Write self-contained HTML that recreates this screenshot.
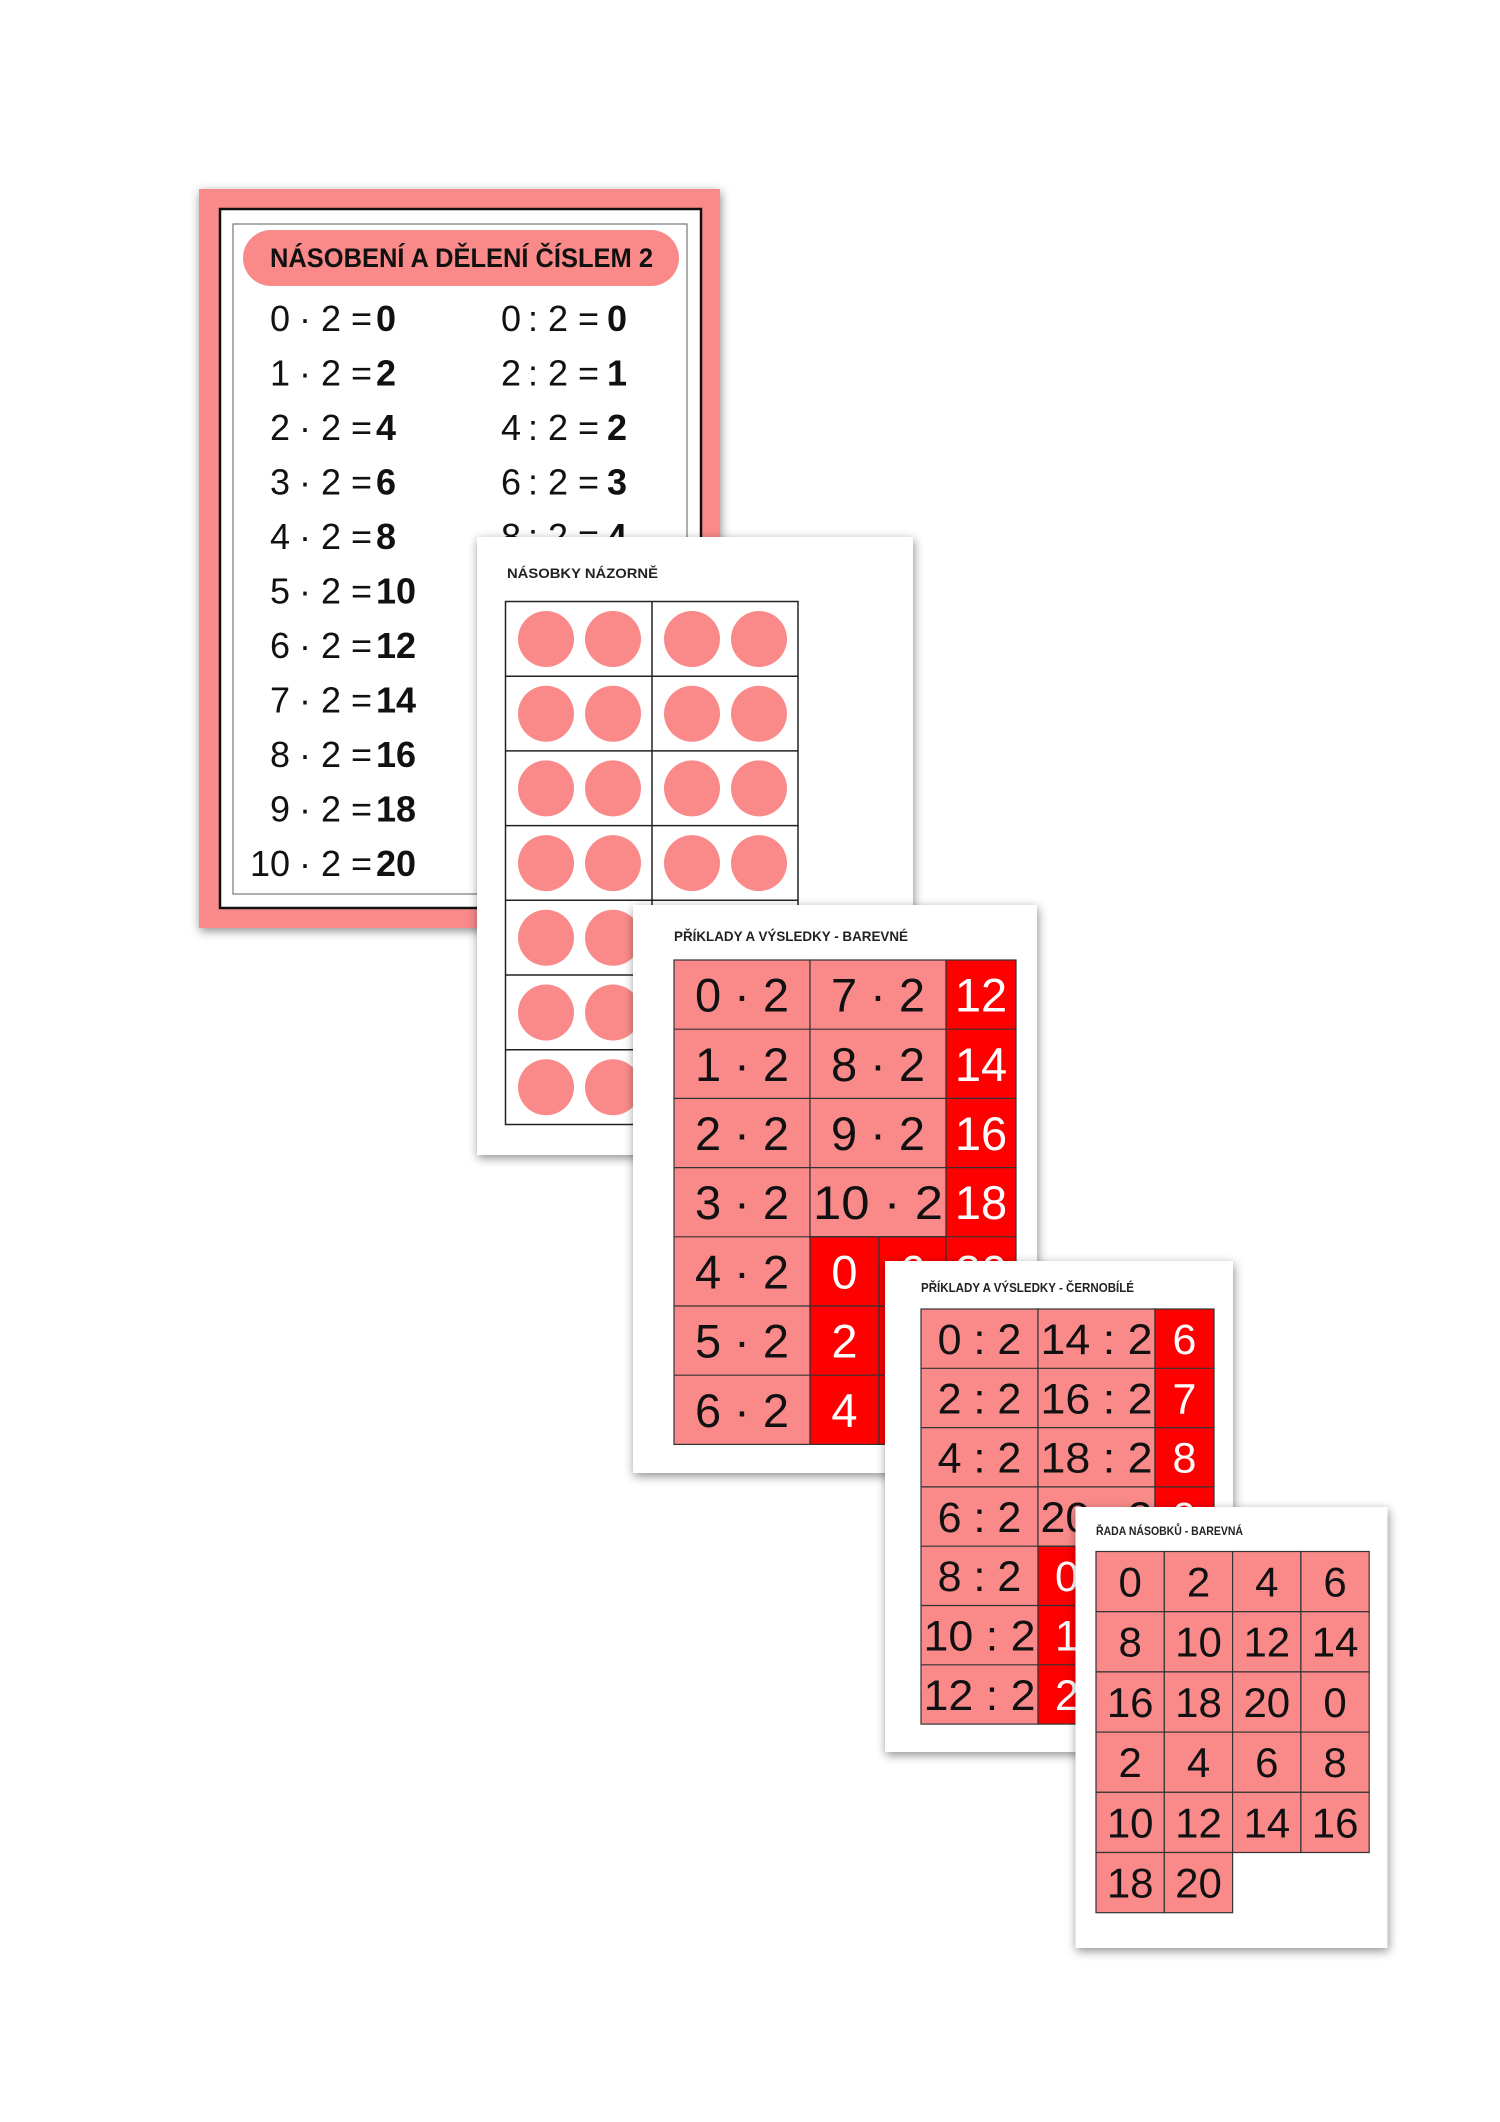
<!DOCTYPE html>
<html><head><meta charset="utf-8"><style>
html,body{margin:0;padding:0;background:#fff;}
svg{display:block;}
text{font-family:"Liberation Sans",sans-serif;}
</style></head><body>
<svg width="1500" height="2122" viewBox="0 0 1500 2122" xmlns="http://www.w3.org/2000/svg">
<defs>
<filter id="sh" x="-10%" y="-10%" width="120%" height="120%">
<feDropShadow dx="1" dy="3" stdDeviation="5" flood-color="#000" flood-opacity="0.45"/>
</filter>
</defs>
<rect width="1500" height="2122" fill="#fff"/>

<!-- CARD 1 -->
<rect x="199" y="189" width="521" height="739" fill="#fa8a8a" filter="url(#sh)"/>
<rect x="220" y="209" width="481" height="699" fill="#fff" stroke="#111" stroke-width="2.5"/>
<rect x="233" y="224" width="454" height="670" fill="none" stroke="#777" stroke-width="1.2"/>
<rect x="243" y="230" width="436" height="56" rx="28" fill="#fa8a8a"/>
<text x="270" y="267" font-size="27" font-weight="bold" fill="#111" textLength="383" lengthAdjust="spacingAndGlyphs">NÁSOBENÍ A DĚLENÍ ČÍSLEM 2</text>
<g font-size="36" fill="#111" xml:space="preserve">
<text x="290" y="331" text-anchor="end">0</text><text x="299" y="331">· 2 =</text><text x="376" y="331" font-weight="bold">0</text>
<text x="290" y="385.5" text-anchor="end">1</text><text x="299" y="385.5">· 2 =</text><text x="376" y="385.5" font-weight="bold">2</text>
<text x="290" y="440" text-anchor="end">2</text><text x="299" y="440">· 2 =</text><text x="376" y="440" font-weight="bold">4</text>
<text x="290" y="494.5" text-anchor="end">3</text><text x="299" y="494.5">· 2 =</text><text x="376" y="494.5" font-weight="bold">6</text>
<text x="290" y="549" text-anchor="end">4</text><text x="299" y="549">· 2 =</text><text x="376" y="549" font-weight="bold">8</text>
<text x="290" y="603.5" text-anchor="end">5</text><text x="299" y="603.5">· 2 =</text><text x="376" y="603.5" font-weight="bold">10</text>
<text x="290" y="658" text-anchor="end">6</text><text x="299" y="658">· 2 =</text><text x="376" y="658" font-weight="bold">12</text>
<text x="290" y="712.5" text-anchor="end">7</text><text x="299" y="712.5">· 2 =</text><text x="376" y="712.5" font-weight="bold">14</text>
<text x="290" y="767" text-anchor="end">8</text><text x="299" y="767">· 2 =</text><text x="376" y="767" font-weight="bold">16</text>
<text x="290" y="821.5" text-anchor="end">9</text><text x="299" y="821.5">· 2 =</text><text x="376" y="821.5" font-weight="bold">18</text>
<text x="290" y="876" text-anchor="end">10</text><text x="299" y="876">· 2 =</text><text x="376" y="876" font-weight="bold">20</text>

<text x="521" y="331" text-anchor="end">0</text><text x="528" y="331">: 2 =</text><text x="607" y="331" font-weight="bold">0</text>
<text x="521" y="385.5" text-anchor="end">2</text><text x="528" y="385.5">: 2 =</text><text x="607" y="385.5" font-weight="bold">1</text>
<text x="521" y="440" text-anchor="end">4</text><text x="528" y="440">: 2 =</text><text x="607" y="440" font-weight="bold">2</text>
<text x="521" y="494.5" text-anchor="end">6</text><text x="528" y="494.5">: 2 =</text><text x="607" y="494.5" font-weight="bold">3</text>
<text x="521" y="549" text-anchor="end">8</text><text x="528" y="549">: 2 =</text><text x="607" y="549" font-weight="bold">4</text>
</g>

<!-- CARD 2 -->
<rect x="477" y="537" width="436" height="618" fill="#fff" filter="url(#sh)"/>
<text x="507" y="578" font-size="14" font-weight="bold" fill="#222" textLength="151" lengthAdjust="spacingAndGlyphs">NÁSOBKY NÁZORNĚ</text>
<g fill="#fa8a8a">
<circle cx="546" cy="639" r="28"/><circle cx="613" cy="639" r="28"/><circle cx="692" cy="639" r="28"/><circle cx="759" cy="639" r="28"/>
<circle cx="546" cy="713.7" r="28"/><circle cx="613" cy="713.7" r="28"/><circle cx="692" cy="713.7" r="28"/><circle cx="759" cy="713.7" r="28"/>
<circle cx="546" cy="788.4" r="28"/><circle cx="613" cy="788.4" r="28"/><circle cx="692" cy="788.4" r="28"/><circle cx="759" cy="788.4" r="28"/>
<circle cx="546" cy="863.1" r="28"/><circle cx="613" cy="863.1" r="28"/><circle cx="692" cy="863.1" r="28"/><circle cx="759" cy="863.1" r="28"/>
<circle cx="546" cy="937.8" r="28"/><circle cx="613" cy="937.8" r="28"/><circle cx="692" cy="937.8" r="28"/><circle cx="759" cy="937.8" r="28"/>
<circle cx="546" cy="1012.5" r="28"/><circle cx="613" cy="1012.5" r="28"/><circle cx="692" cy="1012.5" r="28"/><circle cx="759" cy="1012.5" r="28"/>
<circle cx="546" cy="1087.2" r="28"/><circle cx="613" cy="1087.2" r="28"/><circle cx="692" cy="1087.2" r="28"/><circle cx="759" cy="1087.2" r="28"/>
</g>
<g stroke="#222" stroke-width="1.5" fill="none">
<rect x="505.5" y="601.5" width="292.5" height="523"/>
<line x1="652" y1="601.5" x2="652" y2="1124.5"/>
<line x1="505.5" y1="676.2" x2="798" y2="676.2"/>
<line x1="505.5" y1="750.9" x2="798" y2="750.9"/>
<line x1="505.5" y1="825.6" x2="798" y2="825.6"/>
<line x1="505.5" y1="900.3" x2="798" y2="900.3"/>
<line x1="505.5" y1="975" x2="798" y2="975"/>
<line x1="505.5" y1="1049.7" x2="798" y2="1049.7"/>
</g>

<!-- CARD 3 -->
<rect x="633" y="905" width="404" height="568" fill="#fff" filter="url(#sh)"/>
<text x="674" y="941" font-size="14" font-weight="bold" fill="#222" textLength="234" lengthAdjust="spacingAndGlyphs">PŘÍKLADY A VÝSLEDKY - BAREVNÉ</text>
<g stroke="#333" stroke-width="1.2">
<rect x="674" y="960" width="136" height="484.4" fill="#fa8a8a"/>
<rect x="810" y="960" width="136" height="276.8" fill="#fa8a8a"/>
<rect x="810" y="1236.8" width="69" height="207.6" fill="#fe0000"/>
<rect x="879" y="1236.8" width="67" height="207.6" fill="#fe0000"/>
<rect x="946" y="960" width="70" height="484.4" fill="#fe0000"/>
<line x1="674" y1="1029.2" x2="1016" y2="1029.2"/>
<line x1="674" y1="1098.4" x2="1016" y2="1098.4"/>
<line x1="674" y1="1167.6" x2="1016" y2="1167.6"/>
<line x1="674" y1="1236.8" x2="1016" y2="1236.8"/>
<line x1="674" y1="1306" x2="1016" y2="1306"/>
<line x1="674" y1="1375.2" x2="1016" y2="1375.2"/>
</g>
<g font-size="47" text-anchor="middle" fill="#111">
<text x="742" y="1011.6">0 · 2</text><text x="742" y="1080.8">1 · 2</text><text x="742" y="1150">2 · 2</text><text x="742" y="1219.2">3 · 2</text><text x="742" y="1288.4">4 · 2</text><text x="742" y="1357.6">5 · 2</text><text x="742" y="1426.8">6 · 2</text>
<text x="878" y="1011.6">7 · 2</text><text x="878" y="1080.8">8 · 2</text><text x="878" y="1150">9 · 2</text><text x="878" y="1219.2" textLength="130" lengthAdjust="spacingAndGlyphs">10 · 2</text>
</g>
<g font-size="47" text-anchor="middle" fill="#fff">
<text x="981" y="1011.6">12</text><text x="981" y="1080.8">14</text><text x="981" y="1150">16</text><text x="981" y="1219.2">18</text><text x="981" y="1288.4">20</text>
<text x="844.5" y="1288.4">0</text><text x="844.5" y="1357.6">2</text><text x="844.5" y="1426.8">4</text>
<text x="912.5" y="1288.4">6</text><text x="912.5" y="1357.6">8</text><text x="912.5" y="1426.8">10</text>
</g>

<!-- CARD 4 -->
<rect x="885" y="1261" width="348" height="491" fill="#fff" filter="url(#sh)"/>
<text x="921" y="1292" font-size="13" font-weight="bold" fill="#222" textLength="213" lengthAdjust="spacingAndGlyphs">PŘÍKLADY A VÝSLEDKY - ČERNOBÍLÉ</text>
<g stroke="#333" stroke-width="1.2">
<rect x="921" y="1309" width="117" height="415.1" fill="#fa8a8a"/>
<rect x="1038" y="1309" width="117" height="237.2" fill="#fa8a8a"/>
<rect x="1038" y="1546.2" width="58.5" height="177.9" fill="#fe0000"/>
<rect x="1096.5" y="1546.2" width="58.5" height="177.9" fill="#fe0000"/>
<rect x="1155" y="1309" width="59" height="415.1" fill="#fe0000"/>
<line x1="921" y1="1368.3" x2="1214" y2="1368.3"/>
<line x1="921" y1="1427.6" x2="1214" y2="1427.6"/>
<line x1="921" y1="1486.9" x2="1214" y2="1486.9"/>
<line x1="921" y1="1546.2" x2="1214" y2="1546.2"/>
<line x1="921" y1="1605.5" x2="1214" y2="1605.5"/>
<line x1="921" y1="1664.8" x2="1214" y2="1664.8"/>
</g>
<g font-size="43" text-anchor="middle" fill="#111">
<text x="979.5" y="1354">0 : 2</text><text x="979.5" y="1413.3">2 : 2</text><text x="979.5" y="1472.6">4 : 2</text><text x="979.5" y="1531.9">6 : 2</text><text x="979.5" y="1591.2">8 : 2</text>
<text x="979.5" y="1650.5" textLength="112" lengthAdjust="spacingAndGlyphs">10 : 2</text><text x="979.5" y="1709.8" textLength="112" lengthAdjust="spacingAndGlyphs">12 : 2</text>
<text x="1096.5" y="1354" textLength="112" lengthAdjust="spacingAndGlyphs">14 : 2</text><text x="1096.5" y="1413.3" textLength="112" lengthAdjust="spacingAndGlyphs">16 : 2</text><text x="1096.5" y="1472.6" textLength="112" lengthAdjust="spacingAndGlyphs">18 : 2</text><text x="1096.5" y="1531.9" textLength="112" lengthAdjust="spacingAndGlyphs">20 : 2</text>
</g>
<g font-size="43" text-anchor="middle" fill="#fff">
<text x="1184.5" y="1354">6</text><text x="1184.5" y="1413.3">7</text><text x="1184.5" y="1472.6">8</text><text x="1184.5" y="1531.9">9</text><text x="1184.5" y="1591.2">10</text>
<text x="1067" y="1591.2">0</text><text x="1067" y="1650.5">1</text><text x="1067" y="1709.8">2</text>
<text x="1125.5" y="1591.2">3</text><text x="1125.5" y="1650.5">4</text><text x="1125.5" y="1709.8">5</text>
</g>

<!-- CARD 5 -->
<rect x="1075.5" y="1507" width="312" height="441" fill="#fff" filter="url(#sh)"/>
<text x="1096" y="1535" font-size="12" font-weight="bold" fill="#222" textLength="147" lengthAdjust="spacingAndGlyphs">ŘADA NÁSOBKŮ - BAREVNÁ</text>
<g stroke="#333" stroke-width="1.2" fill="#fa8a8a">
<rect x="1096" y="1551.5" width="68.3" height="60.2"/><rect x="1164.3" y="1551.5" width="68.3" height="60.2"/><rect x="1232.6" y="1551.5" width="68.3" height="60.2"/><rect x="1300.9" y="1551.5" width="68.3" height="60.2"/>
<rect x="1096" y="1611.7" width="68.3" height="60.2"/><rect x="1164.3" y="1611.7" width="68.3" height="60.2"/><rect x="1232.6" y="1611.7" width="68.3" height="60.2"/><rect x="1300.9" y="1611.7" width="68.3" height="60.2"/>
<rect x="1096" y="1671.9" width="68.3" height="60.2"/><rect x="1164.3" y="1671.9" width="68.3" height="60.2"/><rect x="1232.6" y="1671.9" width="68.3" height="60.2"/><rect x="1300.9" y="1671.9" width="68.3" height="60.2"/>
<rect x="1096" y="1732.1" width="68.3" height="60.2"/><rect x="1164.3" y="1732.1" width="68.3" height="60.2"/><rect x="1232.6" y="1732.1" width="68.3" height="60.2"/><rect x="1300.9" y="1732.1" width="68.3" height="60.2"/>
<rect x="1096" y="1792.3" width="68.3" height="60.2"/><rect x="1164.3" y="1792.3" width="68.3" height="60.2"/><rect x="1232.6" y="1792.3" width="68.3" height="60.2"/><rect x="1300.9" y="1792.3" width="68.3" height="60.2"/>
<rect x="1096" y="1852.5" width="68.3" height="60.2"/><rect x="1164.3" y="1852.5" width="68.3" height="60.2"/>
</g>
<g font-size="42" text-anchor="middle" fill="#111">
<text x="1130.2" y="1596.5">0</text><text x="1198.5" y="1596.5">2</text><text x="1266.8" y="1596.5">4</text><text x="1335.1" y="1596.5">6</text>
<text x="1130.2" y="1656.7">8</text><text x="1198.5" y="1656.7">10</text><text x="1266.8" y="1656.7">12</text><text x="1335.1" y="1656.7">14</text>
<text x="1130.2" y="1716.9">16</text><text x="1198.5" y="1716.9">18</text><text x="1266.8" y="1716.9">20</text><text x="1335.1" y="1716.9">0</text>
<text x="1130.2" y="1777.1">2</text><text x="1198.5" y="1777.1">4</text><text x="1266.8" y="1777.1">6</text><text x="1335.1" y="1777.1">8</text>
<text x="1130.2" y="1837.3">10</text><text x="1198.5" y="1837.3">12</text><text x="1266.8" y="1837.3">14</text><text x="1335.1" y="1837.3">16</text>
<text x="1130.2" y="1897.5">18</text><text x="1198.5" y="1897.5">20</text>
</g>
</svg>
</body></html>
